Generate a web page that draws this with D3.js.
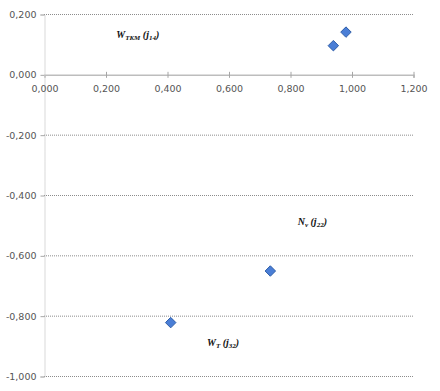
<!DOCTYPE html>
<html>
<head>
<meta charset="utf-8">
<script src="https://cdn.jsdelivr.net/npm/d3@7"></script>
<style>
  body { margin: 0; background: #fff; }
  svg { display: block; }
</style>
</head>
<body>
<script>
// point values
const xValues = [0.982, 0.941, 0.736, 0.412];
const yValues = [0.140, 0.095, -0.652, -0.823];

const xTicks = [0, 0.2, 0.4, 0.6, 0.8, 1.0, 1.2];
const yTicks = [0.2, 0, -0.2, -0.4, -0.6, -0.8, -1.0];

// annotation labels: main, subscript, index subscript, anchor in data units
const labelMain = ["W", "N", "W"];
const labelSub = ["TKM", "v", "T"];
const labelIdx = ["14", "22", "32"];
const labelX = [0.235, 0.825, 0.53];
const labelY = [0.122, -0.498, -0.9];

const W = 440, H = 391;
const svg = d3.select("body").append("svg")
    .attr("width", W)
    .attr("height", H)

const x = d3.scaleLinear().domain([0, 1.2]).range([44, 413]);
const y = d3.scaleLinear().domain([-1, 0.2]).range([376, 14]);

const fmt = d => d3.format(".3f")(d).replace(".", ",").replace("−", "-");

// horizontal dotted gridlines
svg.append("g")
    .selectAll("line")
    .data(yTicks.filter(d => d !== 0))
    .enter()
    .append("line")
    .attr("x1", x(0))
    .attr("x2", x(1.2))
    .attr("y1", d => y(d) + 0.5)
    .attr("y2", d => y(d) + 0.5)
    .style("stroke", "#8c8c8c")
    .style("stroke-width", 1)
    .style("stroke-dasharray", "1,1");

// y axis
const yAxis = d3.axisLeft(y).tickValues(yTicks).tickFormat(fmt).tickSize(4).tickPadding(4);
const gy = svg.append("g")
    .attr("transform", `translate(${x(0) + 0.5},0.5)`)
    .call(yAxis);

// x axis across y = 0
const xAxis = d3.axisBottom(x).tickValues(xTicks).tickFormat(fmt).tickSize(3).tickPadding(7);
const gx = svg.append("g")
    .attr("transform", `translate(0.5,${y(0) + 0.5})`)
    .call(xAxis);

[gx, gy].forEach(g => {
    g.selectAll(".tick line").style("stroke", "#a6a6a6");
    g.selectAll(".tick text")
        .style("font-family", "'DejaVu Sans', Verdana, sans-serif")
        .style("font-size", "9.5px")
        .style("fill", "#555");
});
gy.select(".domain").style("stroke", "#b3b3b3").style("stroke-dasharray", "1,1");
gx.select(".domain").style("stroke", "#bdbdbd").style("stroke-width", 1.5);
gx.selectAll(".tick line").attr("y1", -3);
gx.selectAll(".tick").filter(d => d === 0).select("line").remove();

// diamond markers
const diamond = d3.symbol().type(d3.symbolDiamond2).size(70);
svg.append("g")
    .selectAll("path")
    .data(xValues.map((v, i) => [v, yValues[i]]))
    .enter()
    .append("path")
    .attr("d", diamond)
    .attr("transform", d => `translate(${x(d[0])},${y(d[1])})`)
    .style("fill", "#4a7ed6")
    .style("stroke", "#2f5ea8")
    .style("stroke-width", 1);

// labels
const lab = svg.append("g")
    .selectAll("text")
    .data(labelMain.map((m, i) => i))
    .enter()
    .append("text")
    .attr("x", i => x(labelX[i]))
    .attr("y", i => y(labelY[i]))
    .style("font-family", "'Liberation Serif', 'Times New Roman', serif")
    .style("font-style", "italic")
    .style("font-weight", "bold")
    .style("font-size", "10px")
    .style("fill", "#111");

lab.each(function(i){
    const t = d3.select(this);
    t.append("tspan").text(labelMain[i]);
    t.append("tspan").text(labelSub[i]).attr("dy", 2).style("font-size", "7px");
    t.append("tspan").text(" (j").attr("dy", -2);
    t.append("tspan").text(labelIdx[i]).attr("dy", 2).style("font-size", "7px");
    t.append("tspan").text(")").attr("dy", -2);
});
</script>
</body>
</html>
